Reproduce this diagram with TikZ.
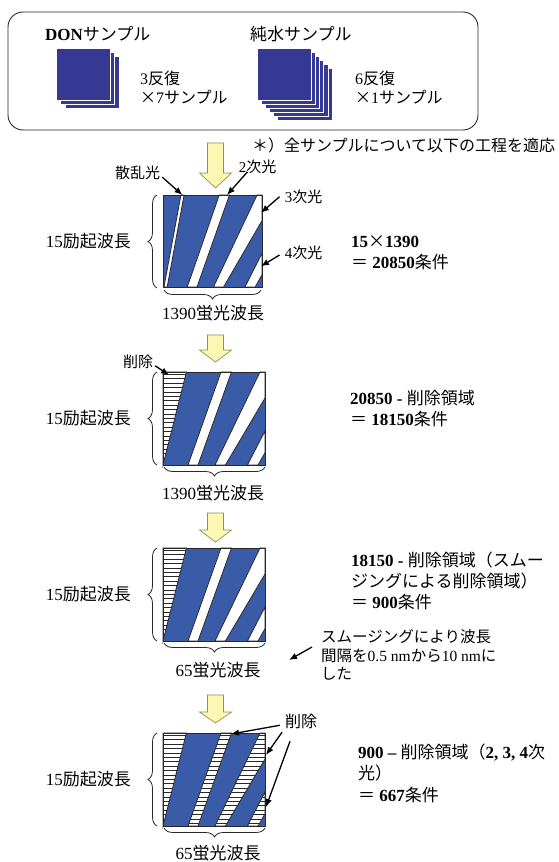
\documentclass[tikz,border=0pt]{standalone}
\usepackage{fontspec}
\setmainfont{Liberation Serif}
\newfontfamily\jpf{Noto Sans CJK JP}
\newcommand\J[1]{{\jpf #1}}
\usetikzlibrary{arrows.meta,decorations.pathreplacing}
\definecolor{navy}{RGB}{54,57,148}
\definecolor{bandblue}{RGB}{58,92,168}
\definecolor{yfill}{RGB}{252,247,178}
\definecolor{yline}{RGB}{150,140,90}
\definecolor{edgec}{RGB}{40,40,40}
\tikzset{
 txt/.style={inner sep=0pt, align=left, font=\fontsize{17}{21.5}\selectfont},
 smalltxt/.style={inner sep=0pt, align=left, font=\fontsize{15.5}{18.3}\selectfont},
 reptxt/.style={inner sep=0pt, align=left, font=\fontsize{16}{19}\selectfont},
 yarr/.style={fill=yfill, draw=yline, line width=0.7pt, line join=miter},
 blk/.style={draw=black, line width=1.3pt, -{Latex[length=8pt,width=6.5pt]}},
 brc/.style={draw=edgec, line width=0.8pt, decorate, decoration={brace, amplitude=9pt}},
 boxedge/.style={draw=edgec, line width=0.8pt},
 hatchline/.style={draw=edgec, line width=0.5pt},
 sq/.style={fill=navy, draw=white, line width=0.8pt},
}
\newcommand\wpoly[1]{\fill[white] #1; \draw[boxedge] #1;}
\newcommand\hpoly[1]{\fill[white] #1;
 \begin{scope}\clip #1;
 \foreach \hy in {2.2,6.6,...,93} \draw[hatchline] (0,\hy) -- (102,\hy);
 \end{scope}
 \draw[boxedge] #1;}
\newcommand\yarrow[3]{\draw[yarr] (207.5,#1) -- (223.5,#1) -- (223.5,#2) -- (231.5,#2) -- (215.5,#3) -- (199.5,#2) -- (207.5,#2) -- cycle;}
\begin{document}
\begin{tikzpicture}[x=1pt,y=-1pt]
\useasboundingbox (0,0) rectangle (558,862);
\fill[white] (0,0) rectangle (558,862);

% top box
\draw[boxedge, line width=0.9pt, rounded corners=15pt] (8,12) rectangle (478,130);
\node[txt, anchor=west] (don) at (45,34) {{\bfseries DON}\J{サンプル}};
\node[txt, anchor=west] (water) at (250,34) {\J{純水サンプル}};
\foreach \i in {2,1,0} \draw[sq] (56+4.5*\i,48+4*\i) rectangle ++(54,52);
\foreach \i in {5,4,...,0} \draw[sq] (257+4.1*\i,48+4.1*\i) rectangle ++(54.5,52);
\node[reptxt, anchor=west] (donrep) at (140,87.5) {3\J{反復}\\\J{×}7\J{サンプル}};
\node[reptxt, anchor=west] (waterrep) at (355,87.5) {6\J{反復}\\\J{×}1\J{サンプル}};
\node[txt, anchor=west, font=\fontsize{16}{20}\selectfont] (note) at (252,145) {\J{＊）全サンプルについて以下の工程を適応}};

% arrows
\yarrow{143}{173}{188}
\yarrow{335}{350}{362}
\yarrow{513}{530}{542}
\yarrow{695}{712}{723}

% box 1
\begin{scope}[shift={(163,195)}, xscale=0.97, yscale=0.99]
 \fill[bandblue] (0,0) rectangle (102,93);
 \wpoly{(18.5,0) -- (21.7,0) -- (4.3,93) -- (1,93) -- cycle}
 \wpoly{(58,0) -- (68.5,0) -- (35,93) -- (25,93) -- cycle}
 \wpoly{(97,0) -- (102,0) -- (102,26) -- (62.4,93) -- (52,93) -- cycle}
 \wpoly{(102,59) -- (102,80.7) -- (95,93) -- (84.4,93) -- cycle}
 \draw[boxedge] (0,0) rectangle (102,93);
 \coordinate (s1) at (20,0);
 \coordinate (o2) at (66,0);
 \coordinate (o3) at (101,18);
 \coordinate (o4) at (101,72);
\end{scope}
\draw[brc] (157,288) -- (157,195);
\draw[brc] (261,290) -- (164,290);
\node[txt, anchor=east] (ex1) at (131,241) {15\J{励起波長}};
\node[txt] (em1) at (213,313) {1390\J{蛍光波長}};
\node[smalltxt, font=\fontsize{15}{18}\selectfont] (lsc) at (137.5,173) {\J{散乱光}};
\node[smalltxt, font=\fontsize{15}{18}\selectfont] (l2) at (257.5,166.7) {2\J{次光}};
\node[smalltxt, font=\fontsize{15}{18}\selectfont] (l3) at (303.5,196.7) {3\J{次光}};
\node[smalltxt, font=\fontsize{15}{18}\selectfont] (l4) at (303.5,253) {4\J{次光}};
\draw[blk] ([shift={(2,-3)}]lsc.south east) -- (s1);
\draw[blk] ([shift={(-10,-2)}]l2.south) -- (o2);
\draw[blk] ([shift={(-5,0)}]l3.west) -- (o3);
\draw[blk] ([shift={(-5,2)}]l4.west) -- (o4);
\node[txt, anchor=west] (r1) at (351,252.5) {{\bfseries 15}\J{×}{\bfseries 1390}\\\J{＝} {\bfseries 20850}\J{条件}};

% box 2
\begin{scope}[shift={(163,372)}]
 \fill[bandblue] (0,0) rectangle (102,93);
 \hpoly{(0,0) -- (23.4,0) -- (0,93) -- cycle}
 \wpoly{(58,0) -- (68.5,0) -- (35,93) -- (25,93) -- cycle}
 \wpoly{(97,0) -- (102,0) -- (102,26) -- (62.4,93) -- (52,93) -- cycle}
 \wpoly{(102,59) -- (102,80.7) -- (95,93) -- (84.4,93) -- cycle}
 \draw[boxedge] (0,0) rectangle (102,93);
 \coordinate (d2) at (6,3);
\end{scope}
\draw[brc] (157,465) -- (157,372);
\draw[brc] (265,467) -- (164,467);
\node[txt, anchor=east] (ex2) at (131,418.5) {15\J{励起波長}};
\node[txt] (em2) at (213,493) {1390\J{蛍光波長}};
\node[smalltxt, font=\fontsize{15}{18}\selectfont] (ld2) at (138,361.7) {\J{削除}};
\draw[blk] ([shift={(2,-3)}]ld2.south east) -- (d2);
\node[txt, anchor=west] (r2) at (350,408.5) {{\bfseries 20850 -} \J{削除領域}\\\J{＝} {\bfseries 18150}\J{条件}};

% box 3
\begin{scope}[shift={(163,548)}]
 \fill[bandblue] (0,0) rectangle (102,93);
 \hpoly{(0,0) -- (23.4,0) -- (0,93) -- cycle}
 \wpoly{(58,0) -- (68.5,0) -- (35,93) -- (25,93) -- cycle}
 \wpoly{(97,0) -- (102,0) -- (102,26) -- (62.4,93) -- (52,93) -- cycle}
 \wpoly{(102,59) -- (102,80.7) -- (95,93) -- (84.4,93) -- cycle}
 \draw[boxedge] (0,0) rectangle (102,93);
\end{scope}
\draw[brc] (157,641) -- (157,548);
\draw[brc] (265,643) -- (164,643);
\node[txt, anchor=east] (ex3) at (131,594.5) {15\J{励起波長}};
\node[txt] (em3) at (218,670) {65\J{蛍光波長}};
\node[txt, anchor=west, font=\fontsize{17}{21}\selectfont] (r3) at (351,581) {{\bfseries 18150 -} \J{削除領域（スムー}\\\J{ジングによる削除領域）}\\\J{＝} {\bfseries 900}\J{条件}};
\node[smalltxt, anchor=west] (nt) at (321,655) {\J{スムージングにより波長}\\\J{間隔を}0.5 nm\J{から}10 nm\J{に}\\\J{した}};
\coordinate (nt0) at (289,660);
\draw[blk] ([shift={(-9,-8)}]nt.west) -- (nt0);

% box 4
\begin{scope}[shift={(163,733)}]
 \fill[bandblue] (0,0) rectangle (102,93);
 \hpoly{(0,0) -- (23.4,0) -- (0,93) -- cycle}
 \hpoly{(58,0) -- (68.5,0) -- (35,93) -- (25,93) -- cycle}
 \hpoly{(97,0) -- (102,0) -- (102,26) -- (62.4,93) -- (52,93) -- cycle}
 \hpoly{(102,59) -- (102,80.7) -- (95,93) -- (84.4,93) -- cycle}
 \draw[boxedge] (0,0) rectangle (102,93);
 \coordinate (p2) at (68,1);
 \coordinate (p3) at (103,22);
 \coordinate (p4) at (103,74);
\end{scope}
\draw[brc] (157,826) -- (157,733);
\draw[brc] (265,828) -- (164,828);
\node[txt, anchor=east] (ex4) at (131,779) {15\J{励起波長}};
\node[txt] (em4) at (218,853) {65\J{蛍光波長}};
\node[smalltxt, font=\fontsize{16}{18}\selectfont] (ld4) at (301,721.7) {\J{削除}};
\draw[blk] ([shift={(-5,-4)}]ld4.south west) -- (p2);
\draw[blk] ([shift={(-19,3)}]ld4.south) -- (p3);
\draw[blk] ([shift={(-11,12)}]ld4.south) -- (p4);
\node[txt, anchor=west] (r4) at (358,773.3) {{\bfseries 900 –} \J{削除領域（}{\bfseries 2, 3, 4}\J{次}\\\J{光）}\\\J{＝} {\bfseries 667}\J{条件}};
\end{tikzpicture}
\end{document}
